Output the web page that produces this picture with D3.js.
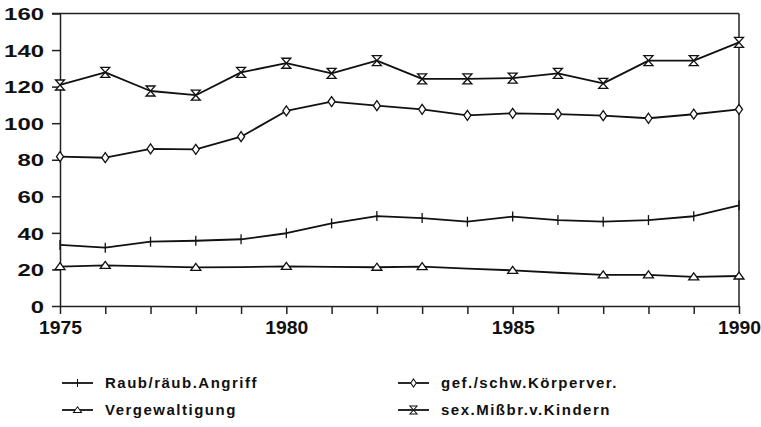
<!DOCTYPE html>
<html>
<head>
<meta charset="utf-8">
<script src="https://cdn.jsdelivr.net/npm/d3@7"></script>
<style>
  body { margin: 0; background: #fff; }
  svg { display: block; }
  text { font-family: "Liberation Sans", Arial, sans-serif; font-weight: bold; fill: #111; }
</style>
</head>
<body>
<div id="chart"></div>
<script>
const years = d3.range(1975, 1991);
const yTicks = [0, 20, 40, 60, 80, 100, 120, 140, 160];
const xTicks = [1975, 1980, 1985, 1990];

const raub = [33.4, 31.9, 35.2, 35.7, 36.5, 39.8, 45.2, 49.2, 48.1, 46.1, 48.9, 47.0, 46.1, 47.0, 49.1, 55.1];
const koerper = [81.7, 81.1, 85.9, 85.7, 92.6, 106.7, 111.8, 109.6, 107.6, 104.3, 105.4, 105.0, 104.1, 102.7, 104.9, 107.6];
const vergew = [21.5, 22.2, 21.7, 21.1, 21.3, 21.7, 21.4, 21.2, 21.5, 20.4, 19.5, 18.2, 17.0, 17.0, 15.9, 16.4];
const missbr = [120.9, 127.8, 117.6, 115.3, 127.8, 132.8, 127.3, 134.2, 124.2, 124.2, 124.7, 127.3, 121.8, 134.2, 134.2, 144.2];
// the scan shows triangles only on these years
const vergewMarked = [1975, 1976, 1978, 1980, 1982, 1983, 1985, 1987, 1988, 1989, 1990];

const series = [
  { name: 'Raub/räub.Angriff', values: raub, symbol: 'plus' },
  { name: 'gef./schw.Körperver.', values: koerper, symbol: 'diamond' },
  { name: 'Vergewaltigung', values: vergew, symbol: 'triangle', marked: vergewMarked },
  { name: 'sex.Mißbr.v.Kindern', values: missbr, symbol: 'hourglass' }
];

const width = 761, height = 427;
const margin = { left: 60, right: 22, top: 13.5, bottom: 121 };

const svg = d3.select('#chart').append('svg')
  .attr('width', width)
  .attr('height', height);

const x = d3.scaleLinear().domain([1975, 1990]).range([margin.left, width - margin.right]);
const y = d3.scaleLinear().domain([0, 160]).range([height - margin.bottom, margin.top]);

const symbols = {
  plus: 'M0,-5V5',
  diamond: 'M0,-5L3.5,0L0,5L-3.5,0Z',
  triangle: 'M0,-4L5,3H-5Z',
  hourglass: 'M-4.5,-5H4.5L-4.5,5H4.5Z'
};

// frame: top and right
svg.append('line')
  .attr('x1', x(1975) - 8).attr('x2', x(1990))
  .attr('y1', y(160)).attr('y2', y(160))
  .attr('stroke', '#222').attr('stroke-width', 1.5);
svg.append('line')
  .attr('x1', x(1990)).attr('x2', x(1990))
  .attr('y1', y(160)).attr('y2', y(0))
  .attr('stroke', '#222').attr('stroke-width', 1.5);

const yAxis = svg.append('g')
  .attr('transform', `translate(${margin.left},0)`)
  .call(d3.axisLeft(y).tickValues(yTicks).tickSizeInner(8).tickSizeOuter(0).tickPadding(8));
yAxis.selectAll('text')
  .style('font-size', '17px')
  .attr('dy', '0.36em')
  .attr('textLength', d => String(d).length * 13.3)
  .attr('lengthAdjust', 'spacingAndGlyphs');

const xAxis = svg.append('g')
  .attr('transform', `translate(0,${y(0)})`)
  .call(d3.axisBottom(x).tickValues(years).tickSizeInner(8).tickSizeOuter(0).tickPadding(7)
    .tickFormat(d => xTicks.includes(d) ? d : ''));
xAxis.selectAll('text')
  .style('font-size', '18px')
  .attr('textLength', d => xTicks.includes(d) ? 43 : null)
  .attr('lengthAdjust', 'spacingAndGlyphs');

svg.selectAll('.domain, .tick line').attr('stroke', '#222').attr('stroke-width', 1.5);

const line = d3.line()
  .x((d, i) => x(years[i]))
  .y(d => y(d));

series.forEach(s => {
  svg.append('path')
    .datum(s.values)
    .attr('d', line)
    .attr('fill', 'none')
    .attr('stroke', '#111')
    .attr('stroke-width', 1.8)
    .attr('stroke-linejoin', 'round');

  const pts = s.values.map((v, i) => ({ yr: years[i], v: v }))
    .filter(p => !s.marked || s.marked.includes(p.yr));
  svg.selectAll(null)
    .data(pts)
    .enter().append('path')
    .attr('transform', p => `translate(${x(p.yr)},${y(p.v)})`)
    .attr('d', symbols[s.symbol])
    .attr('fill', s.symbol === 'plus' ? 'none' : '#fff')
    .attr('stroke', '#111')
    .attr('stroke-width', 1.3);
});

// legend
const legendPos = [
  { x: 62, y: 383 }, { x: 398, y: 383 },
  { x: 62, y: 410 }, { x: 398, y: 410 }
];
series.forEach((s, i) => {
  const p = legendPos[i];
  const g = svg.append('g').attr('transform', `translate(${p.x},${p.y})`);
  g.append('line')
    .attr('x1', 0).attr('x2', 31)
    .attr('stroke', '#111').attr('stroke-width', 1.8);
  g.append('path')
    .attr('transform', 'translate(15.5,0) scale(0.8)')
    .attr('d', symbols[s.symbol])
    .attr('fill', s.symbol === 'plus' ? 'none' : '#fff')
    .attr('stroke', '#111')
    .attr('stroke-width', 1.3);
  g.append('text')
    .attr('x', 43)
    .attr('dy', '0.36em')
    .style('font-size', '15px')
    .style('letter-spacing', '1.5px')
    .text(s.name);
});
</script>
</body>
</html>
